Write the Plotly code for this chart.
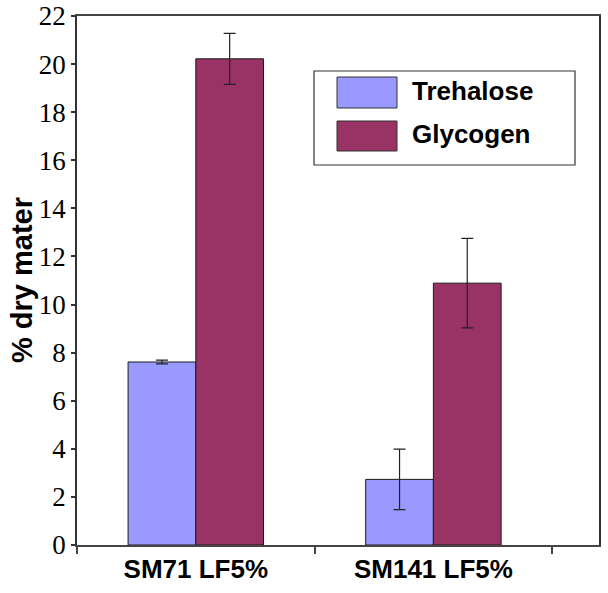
import plotly.graph_objects as go

categories = ["SM71 LF5%", "SM141 LF5%"]
series_names = ["Trehalose", "Glycogen"]
trehalose = [7.61, 2.73]
trehalose_err = [0.08, 1.26]
glycogen = [20.22, 10.89]
glycogen_err = [1.06, 1.86]
colors = ["#9999FF", "#993366"]
y_ticks = list(range(0, 23, 2))
y_title = "% dry mater"

W, H = 608, 593
L, R, T, B = 77, 9, 16, 48
PW, PH = W - L - R, H - T - B


def px(x):
    return (x - L) / PW


def py(y):
    return (H - B - y) / PH


fig = go.Figure()
for name, vals, errs, col in [
    (series_names[0], trehalose, trehalose_err, colors[0]),
    (series_names[1], glycogen, glycogen_err, colors[1]),
]:
    fig.add_trace(go.Bar(
        x=categories, y=vals, name=name,
        marker=dict(color=col, line=dict(color="#1a1a1a", width=1)),
        error_y=dict(type="data", array=errs, visible=True,
                     color="#222222", thickness=1.2, width=6),
        showlegend=False,
    ))

# legend box drawn as shapes
shapes = [dict(type="rect", xref="paper", yref="paper",
               x0=px(314), x1=px(575), y0=py(165), y1=py(71),
               line=dict(color="#333333", width=1.2), fillcolor="white", layer="above")]
annotations = []
sw = [(77, 108), (121, 151)]
for i, name in enumerate(series_names):
    y0, y1 = sw[i]
    shapes.append(dict(type="rect", xref="paper", yref="paper",
                       x0=px(337), x1=px(397), y0=py(y1), y1=py(y0),
                       line=dict(color="#333333", width=1), fillcolor=colors[i], layer="above"))
    annotations.append(dict(xref="paper", yref="paper", x=px(410), y=py((y0 + y1) / 2 - 2),
                            text=f"<b>{name}</b>", showarrow=False, xanchor="left", yanchor="middle",
                            font=dict(family="Liberation Sans, Arial", size=26, color="black")))

annotations.append(dict(xref="paper", yref="paper", x=px(22), y=py(280),
                        text=f"<b>{y_title}</b>", showarrow=False, textangle=-90,
                        xanchor="center", yanchor="middle",
                        font=dict(family="Liberation Sans, Arial", size=29, color="black")))

fig.update_layout(
    width=W, height=H,
    margin=dict(l=L, r=R, t=T, b=B, pad=0, autoexpand=False),
    paper_bgcolor="white", plot_bgcolor="white",
    barmode="group", bargap=0.43, bargroupgap=0,
    shapes=shapes, annotations=annotations,
    showlegend=False,
)
fig.update_xaxes(
    type="category", range=[-0.5, 1.697], automargin=False,
    showline=True, linecolor="#444444", linewidth=1.5, mirror=True,
    ticks="outside", tickson="boundaries", ticklen=7, tickcolor="#444444", tickwidth=1.5,
    tickfont=dict(family="Liberation Sans, Arial", size=26, color="black"),
    showgrid=False, zeroline=False,
    tickprefix="<b>", ticksuffix="</b>",
)
fig.update_yaxes(
    range=[0, 22], tickvals=y_ticks, automargin=False,
    showline=True, linecolor="#333333", linewidth=1.5, mirror=True,
    ticks="outside", ticklen=4, tickcolor="#333333", tickwidth=1.5,
    tickfont=dict(family="Liberation Serif, Times New Roman", size=27, color="black"),
    showgrid=False, zeroline=False,
)

fig.write_html("out.html", config={"displayModeBar": False},
               post_script="document.body.style.margin='0';document.body.style.padding='0';")
